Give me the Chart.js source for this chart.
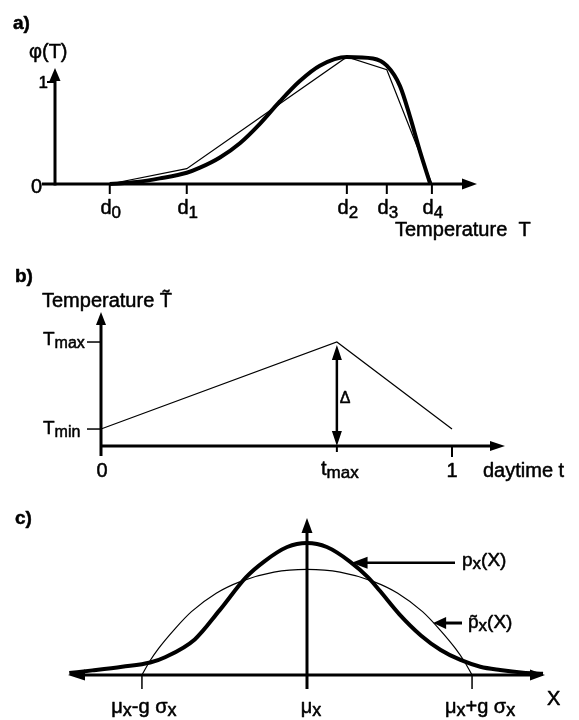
<!DOCTYPE html>
<html><head><meta charset="utf-8">
<script src="https://cdn.jsdelivr.net/npm/chart.js@4/dist/chart.umd.min.js"></script>
<style>
html,body{margin:0;padding:0;background:#fff;}
#wrap{position:relative;width:579px;height:720px;overflow:hidden;}
#wrap canvas{position:absolute;left:0;top:0;}
</style></head><body>
<div id="wrap">
<canvas id="ca" width="579" height="720"></canvas>
<canvas id="cb" width="579" height="720"></canvas>
<canvas id="cc" width="579" height="720"></canvas>
</div>
<script>
const FONT = '"Liberation Sans", Arial, Helvetica, sans-serif';

// ---------- Panel a: phi(T) ----------
const aTickT = [0, 2.39, 7.36, 8.6, 10];          // d0..d4
const aTickSub = ['0', '1', '2', '3', '4'];
const aPolyT = [0, 2.39, 7.36, 8.6, 10];
const aPolyPhi = [0, 0.15, 1.245, 1.12, 0];
const aCurveT = [0, 0.84, 1.55, 2.39, 2.80, 3.42, 4.04, 4.66, 5.28, 5.90, 6.52, 7.36, 8.17, 8.60, 9.01, 9.32, 9.63, 9.94];
const aCurvePhi = [0, 0.02, 0.055, 0.11, 0.16, 0.26, 0.40, 0.59, 0.81, 1.01, 1.16, 1.245, 1.23, 1.16, 0.96, 0.66, 0.32, 0.01];
const aYTickLabels = ['0', '1'];
const aAxisTop = 1.137;

// ---------- Panel b: daily temperature ----------
const bTime = [0, 0.672, 1];
const bTemp = [0, 1, 0];           // Tmin = 0, Tmax = 1
const bTmax = 0.672;
const bAxisTop = 1.345;

// ---------- Panel c: distributions ----------
const cU = [-1.44, -1.3, -1.12, -0.95, -0.86, -0.68, -0.53, -0.37, -0.26, -0.12, 0, 0.12, 0.26, 0.37, 0.44, 0.56, 0.69, 0.81, 0.93, 1.05, 1.17, 1.31, 1.43];
const cP = [0.015, 0.035, 0.063, 0.095, 0.135, 0.27, 0.49, 0.74, 0.86, 0.97, 1, 0.97, 0.86, 0.74, 0.64, 0.46, 0.30, 0.19, 0.114, 0.063, 0.038, 0.018, 0.01];
const tU = [-1, -0.95, -0.9, -0.8, -0.7, -0.55, -0.4, -0.2, 0, 0.2, 0.4, 0.55, 0.7, 0.8, 0.9, 0.95, 1];
const tP = [0, 0.11, 0.2, 0.35, 0.48, 0.62, 0.71, 0.78, 0.8, 0.78, 0.71, 0.62, 0.48, 0.35, 0.2, 0.11, 0];
const cAxisTop = 1.19;

// ---------- helpers ----------
function pts(xs, ys) { return xs.map((x, i) => ({ x: x, y: ys[i] })); }
function line(ctx, x1, y1, x2, y2, w) {
  ctx.lineWidth = w; ctx.beginPath(); ctx.moveTo(x1, y1); ctx.lineTo(x2, y2); ctx.stroke();
}
function head(ctx, x, y, dir, len, wid) {
  const h = wid / 2; ctx.beginPath();
  if (dir === 'up') { ctx.moveTo(x, y); ctx.lineTo(x - h, y + len); ctx.lineTo(x + h, y + len); }
  if (dir === 'down') { ctx.moveTo(x, y); ctx.lineTo(x - h, y - len); ctx.lineTo(x + h, y - len); }
  if (dir === 'right') { ctx.moveTo(x, y); ctx.lineTo(x - len, y - h); ctx.lineTo(x - len, y + h); }
  if (dir === 'left') { ctx.moveTo(x, y); ctx.lineTo(x + len, y - h); ctx.lineTo(x + len, y + h); }
  ctx.closePath(); ctx.fill();
}
// segs: [text, size, dy, bold]
function rich(ctx, segs, x, y, align) {
  let w = 0;
  const ws = segs.map(s => { ctx.font = (s[3] ? 'bold ' : '') + s[1] + 'px ' + FONT; const m = ctx.measureText(s[0]).width; w += m; return m; });
  let cx = align === 'center' ? x - w / 2 : (align === 'right' ? x - w : x);
  ctx.textAlign = 'left'; ctx.textBaseline = 'alphabetic';
  ctx.lineWidth = 0.5; ctx.lineJoin = 'round';
  segs.forEach((s, i) => {
    ctx.font = (s[3] ? 'bold ' : '') + s[1] + 'px ' + FONT;
    ctx.fillText(s[0], cx, y + (s[2] || 0));
    ctx.strokeText(s[0], cx, y + (s[2] || 0));
    cx += ws[i];
  });
}
const diagramPlugin = {
  id: 'diagram',
  afterDraw(chart, args, opts) {
    const f = opts && opts.draw;
    if (!f) return;
    const ctx = chart.ctx; ctx.save();
    ctx.fillStyle = '#000'; ctx.strokeStyle = '#000'; ctx.lineCap = 'butt';
    f(chart, ctx, chart.scales.x, chart.scales.y);
    ctx.restore();
  }
};
function baseOptions(xmin, xmax, ymin, ymax, pad, draw) {
  return {
    responsive: false, animation: false, events: [],
    layout: { padding: pad },
    scales: {
      x: { type: 'linear', min: xmin, max: xmax, display: false },
      y: { type: 'linear', min: ymin, max: ymax, display: false }
    },
    plugins: { legend: { display: false }, tooltip: { enabled: false }, diagram: { draw: draw } },
    elements: { point: { radius: 0 } }
  };
}

// ---------- Chart a ----------
new Chart(document.getElementById('ca'), {
  type: 'line',
  plugins: [diagramPlugin],
  data: { datasets: [
    { data: pts(aPolyT, aPolyPhi), borderColor: '#000', borderWidth: 1.2, tension: 0, pointRadius: 0, clip: false },
    { data: pts(aCurveT, aCurvePhi), borderColor: '#000', borderWidth: 4, cubicInterpolationMode: 'monotone', pointRadius: 0, clip: false }
  ] },
  options: baseOptions(-1.7, 11.4, 0, 1.3, { left: 55, right: 102, top: 51.4, bottom: 536 }, (chart, ctx, xs, ys) => {
    const x0 = xs.getPixelForValue(xs.min), y0 = ys.getPixelForValue(0);
    const yTip = ys.getPixelForValue(aAxisTop), xTip = xs.getPixelForValue(xs.max);
    line(ctx, x0, y0 + 1.5, x0, yTip + 10, 3); head(ctx, x0, yTip, 'up', 13, 11);
    line(ctx, x0 - 13, y0, xTip - 12, y0, 3); head(ctx, xTip, y0, 'right', 15, 11);
    aTickT.forEach((t, i) => {
      const x = xs.getPixelForValue(t);
      line(ctx, x, y0, x, y0 + 10, 2);
      rich(ctx, [['d', 20], [aTickSub[i], 17, 4]], x + 1, y0 + 30, 'center');
    });
    const y1 = ys.getPixelForValue(1);
    line(ctx, x0 - 8, y1, x0, y1, 2);
    rich(ctx, [[aYTickLabels[1], 17]], x0 - 7, y1 + 6, 'right');
    rich(ctx, [[aYTickLabels[0], 20]], x0 - 13, y0 + 9, 'right');
    rich(ctx, [['\u03C6(T)', 20]], 29, 58, 'left');
    rich(ctx, [['Temperature  T', 20]], 395, 236, 'left');
    rich(ctx, [['a)', 19, 0, true]], 13, 29, 'left');
  })
});

// ---------- Chart b ----------
new Chart(document.getElementById('cb'), {
  type: 'line',
  plugins: [diagramPlugin],
  data: { datasets: [
    { data: pts(bTime, bTemp), borderColor: '#000', borderWidth: 1.2, tension: 0, pointRadius: 0, clip: false }
  ] },
  options: baseOptions(0, 1.151, -0.195, 1.345, { left: 101, right: 74, top: 312, bottom: 274 }, (chart, ctx, xs, ys) => {
    const x0 = xs.getPixelForValue(0), y0 = ys.getPixelForValue(ys.min);
    const yTip = ys.getPixelForValue(bAxisTop), xTip = xs.getPixelForValue(xs.max);
    line(ctx, x0, y0 + 10, x0, yTip + 10, 3); head(ctx, x0, yTip, 'up', 13, 10);
    line(ctx, x0, y0, xTip - 12, y0, 3); head(ctx, xTip, y0, 'right', 15, 10);
    const yMax = ys.getPixelForValue(1), yMin = ys.getPixelForValue(0);
    line(ctx, x0 - 14, yMax, x0, yMax, 1.5);
    line(ctx, x0 - 14, yMin, x0, yMin, 1.5);
    const xt = xs.getPixelForValue(bTmax), x1 = xs.getPixelForValue(1);
    line(ctx, x1, y0, x1, y0 + 11, 2);
    line(ctx, xt, y0, xt, y0 + 6, 2);
    // Delta double arrow
    line(ctx, xt, yMax + 14, xt, y0 - 14, 2.5);
    head(ctx, xt, yMax + 3, 'up', 15, 10);
    head(ctx, xt, y0, 'down', 15, 10);
    rich(ctx, [['\u0394', 16]], xt + 3, 403, 'left');
    rich(ctx, [['T', 19], ['max', 16, 3]], 43, yMax + 3, 'left');
    rich(ctx, [['T', 19], ['min', 16, 3]], 43, yMin + 5, 'left');
    rich(ctx, [['0', 20]], x0 + 1, 477, 'center');
    rich(ctx, [['t', 20], ['max', 17, 3]], xt + 3, 475, 'center');
    rich(ctx, [['1', 20]], x1, 477, 'center');
    rich(ctx, [['daytime t', 20]], 483, 477, 'left');
    rich(ctx, [['Temperature T\u0303', 20]], 42, 307, 'left');
    rich(ctx, [['b)', 19, 0, true]], 15, 282, 'left');
  })
});

// ---------- Chart c ----------
new Chart(document.getElementById('cc'), {
  type: 'line',
  plugins: [diagramPlugin],
  data: { datasets: [
    { data: pts(tU, tP), borderColor: '#000', borderWidth: 1.2, cubicInterpolationMode: 'monotone', pointRadius: 0, clip: false },
    { data: pts(cU, cP), borderColor: '#000', borderWidth: 4, cubicInterpolationMode: 'monotone', pointRadius: 0, clip: false }
  ] },
  options: baseOptions(-1.448, 1.442, 0, 1.19, { left: 68, right: 34, top: 518, bottom: 45 }, (chart, ctx, xs, ys) => {
    const xm = xs.getPixelForValue(0), y0 = ys.getPixelForValue(0);
    const yTip = ys.getPixelForValue(cAxisTop);
    const xL = xs.getPixelForValue(xs.min), xR = xs.getPixelForValue(xs.max);
    line(ctx, xm, y0 + 14, xm, yTip + 12, 3); head(ctx, xm, yTip, 'up', 15, 11);
    line(ctx, xL + 14, y0, xR - 12, y0, 3);
    head(ctx, xL, y0, 'left', 17, 11); head(ctx, xR, y0, 'right', 15, 11);
    const xa = xs.getPixelForValue(-1), xb = xs.getPixelForValue(1);
    line(ctx, xa, y0, xa, y0 + 14, 1.5); line(ctx, xb, y0, xb, y0 + 14, 1.5);
    rich(ctx, [['\u03BC', 20], ['x', 18, 3], ['-g \u03C3', 20], ['x', 18, 3]], xa + 2, 713, 'center');
    rich(ctx, [['\u03BC', 20], ['x', 18, 3]], xm + 4, 713, 'center');
    rich(ctx, [['\u03BC', 20], ['x', 18, 3], ['+g \u03C3', 20], ['x', 18, 3]], xb + 8, 713, 'center');
    rich(ctx, [['X', 20]], 547, 705, 'left');
    // p_X(X) arrow
    const ya = ys.getPixelForValue(0.85), xaTip = xs.getPixelForValue(0.27);
    line(ctx, xaTip + 14, ya, 455, ya, 2.5); head(ctx, xaTip, ya, 'left', 16, 12);
    rich(ctx, [['p', 19], ['x', 17, 3], ['(X)', 19]], 462, 566, 'left');
    const yb = ys.getPixelForValue(0.394), xbTip = xs.getPixelForValue(0.764);
    line(ctx, xbTip + 10, yb, 462, yb, 3); head(ctx, xbTip, yb, 'left', 13, 12);
    rich(ctx, [['p\u0303', 19], ['x', 17, 3], ['(X)', 19]], 468, 628, 'left');
    rich(ctx, [['c)', 19, 0, true]], 15, 524, 'left');
  })
});
</script>
</body></html>
